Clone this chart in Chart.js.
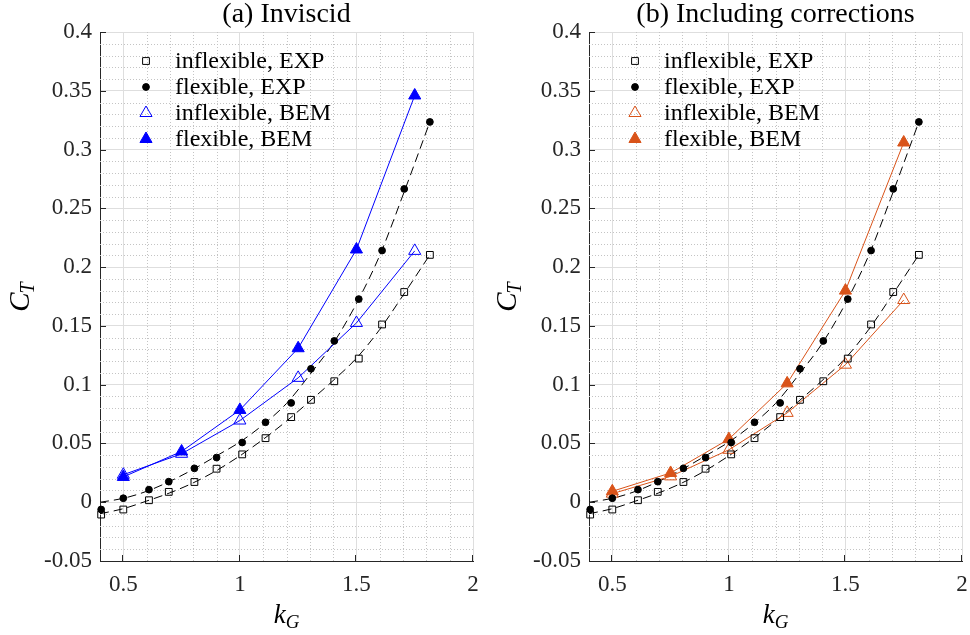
<!DOCTYPE html>
<html lang="en">
<head>
<meta charset="UTF-8">
<title>Thrust coefficient vs k_G</title>
<script src="https://cdn.jsdelivr.net/npm/chart.js"></script>
<style>
  html, body { margin: 0; padding: 0; background: #fff; }
  .wrap { position: relative; width: 970px; height: 635px; }
  .wrap canvas { position: absolute; top: 0; }
  #left { left: 0; }
  #right { left: 485px; }
</style>
</head>
<body>
<div class="wrap">
  <canvas id="left" width="485" height="635"></canvas>
  <canvas id="right" width="485" height="635"></canvas>
</div>
<script>
// experiment (same points in both panels)
const kgExp = [0.405, 0.5, 0.61, 0.695, 0.805, 0.9, 1.01, 1.11, 1.22, 1.305, 1.405, 1.51, 1.61, 1.705, 1.815];
const ctExpInflex = [-0.0105, -0.0062, 0.0017, 0.0088, 0.0172, 0.0285, 0.0407, 0.0545, 0.0724, 0.0871, 0.1029, 0.1222, 0.1512, 0.1788, 0.2104];
const ctExpFlex = [-0.0062, 0.0034, 0.0107, 0.0175, 0.0288, 0.038, 0.0508, 0.068, 0.0845, 0.1135, 0.1372, 0.1728, 0.2141, 0.2665, 0.3235];

// dashed curves fitted to the experiment
const kgFit = [0.4, 0.5, 0.6, 0.7, 0.8, 0.9, 1.0, 1.1, 1.2, 1.3, 1.4, 1.5, 1.6, 1.7, 1.815];
const fitInflex = [-0.0098, -0.0055, 0.001, 0.008, 0.0165, 0.027, 0.0395, 0.0535, 0.069, 0.086, 0.1035, 0.1225, 0.147, 0.176, 0.2105];
const fitFlex = [0, 0.0033, 0.0093, 0.0178, 0.028, 0.0395, 0.0512, 0.066, 0.084, 0.1085, 0.135, 0.169, 0.21, 0.2615, 0.3235];

// BEM results
const kgBem = [0.5, 0.75, 1.0, 1.25, 1.5, 1.75];
const bemInviscidInflex = [0.0234, 0.0412, 0.0695, 0.1058, 0.1525, 0.2138];
const bemInviscidFlex = [0.0215, 0.0432, 0.0785, 0.131, 0.215, 0.346];
const bemCorrInflex = [0.0073, 0.022, 0.0446, 0.076, 0.117, 0.172];
const bemCorrFlex = [0.0093, 0.0249, 0.0537, 0.1011, 0.18, 0.306];

// axes
const xTicks = [0.5, 1, 1.5, 2];
const xTickLabels = ['0.5', '1', '1.5', '2'];
const yTicks = [-0.05, 0, 0.05, 0.1, 0.15, 0.2, 0.25, 0.3, 0.35, 0.4];
const yTickLabels = ['-0.05', '0', '0.05', '0.1', '0.15', '0.2', '0.25', '0.3', '0.35', '0.4'];

const FONT = '"Liberation Serif", "Times New Roman", serif';
const AXIS = '#262626';

function pts(xs, ys) {
    return xs.map((x, i) => ({ x: x, y: ys[i] }));
}

function drawMarker(ctx, style, x, y, r, fill, stroke) {
    ctx.beginPath();
    if (style === 'rect') {
        const s = r * Math.SQRT1_2;
        ctx.rect(x - s, y - s, 2 * s, 2 * s);
    } else if (style === 'circle') {
        ctx.arc(x, y, r, 0, 2 * Math.PI);
    } else {
        for (let k = 0; k < 3; k++) {
            const ang = k * 2 * Math.PI / 3;
            const px = x + Math.sin(ang) * r, py = y - Math.cos(ang) * r;
            if (k) ctx.lineTo(px, py); else ctx.moveTo(px, py);
        }
        ctx.closePath();
    }
    if (fill && fill !== 'transparent') { ctx.fillStyle = fill; ctx.fill(); }
    ctx.lineWidth = 1;
    ctx.strokeStyle = stroke;
    ctx.stroke();
}

// dotted minor grid under the data
const minorGrid = {
    id: 'minorGrid',
    beforeDatasetsDraw(chart) {
        const { ctx, chartArea: a, scales: { x, y } } = chart;
        ctx.save();
        ctx.strokeStyle = '#c4c4c4';
        ctx.lineWidth = 1;
        ctx.setLineDash([1, 2]);
        for (let i = 5; i < 20; i++) {
            if (i % 5 === 0) continue;
            const px = Math.round(x.getPixelForValue(i / 10)) + 0.5;
            ctx.beginPath(); ctx.moveTo(px, a.top); ctx.lineTo(px, a.bottom); ctx.stroke();
        }
        for (let i = -4; i < 40; i++) {
            if (i % 5 === 0) continue;
            const py = Math.round(y.getPixelForValue(i / 100)) + 0.5;
            ctx.beginPath(); ctx.moveTo(a.left, py); ctx.lineTo(a.right, py); ctx.stroke();
        }
        ctx.restore();
    }
};

// inward ticks, title, axis labels and legend
const decor = {
    id: 'decor',
    afterDraw(chart) {
        const { ctx, chartArea: a, scales: { x, y } } = chart;
        const opts = chart.options.plugins.decor;
        ctx.save();
        ctx.strokeStyle = AXIS;
        ctx.lineWidth = 1;
        yTicks.forEach(v => {
            const py = Math.round(y.getPixelForValue(v)) + 0.5;
            ctx.beginPath(); ctx.moveTo(a.left, py); ctx.lineTo(a.left + 6, py); ctx.stroke();
        });
        xTicks.forEach(v => {
            const px = Math.round(x.getPixelForValue(v)) - 0.5;
            ctx.beginPath(); ctx.moveTo(px, a.bottom); ctx.lineTo(px, a.bottom - 6); ctx.stroke();
        });

        // title
        ctx.fillStyle = '#000';
        ctx.font = '28px ' + FONT;
        ctx.textAlign = 'center';
        ctx.textBaseline = 'alphabetic';
        ctx.fillText(opts.title, (a.left + a.right) / 2, 22);

        // k_G
        ctx.font = 'italic 27px ' + FONT;
        const kw = ctx.measureText('k').width;
        ctx.font = 'italic 19px ' + FONT;
        const gw = ctx.measureText('G').width;
        let sx = (a.left + a.right) / 2 - (kw + gw) / 2;
        ctx.textAlign = 'left';
        ctx.font = 'italic 27px ' + FONT;
        ctx.fillText('k', sx, 623);
        ctx.font = 'italic 19px ' + FONT;
        ctx.fillText('G', sx + kw, 628);

        // C_T, rotated
        ctx.save();
        ctx.translate(a.left - opts.yLabelGap, (a.top + a.bottom) / 2);
        ctx.rotate(-Math.PI / 2);
        ctx.font = 'italic 29px ' + FONT;
        const cw = ctx.measureText('C').width;
        ctx.font = 'italic 20px ' + FONT;
        const tw = ctx.measureText('T').width;
        ctx.font = 'italic 29px ' + FONT;
        ctx.fillText('C', -(cw + tw) / 2, 0);
        ctx.font = 'italic 20px ' + FONT;
        ctx.fillText('T', -(cw + tw) / 2 + cw - 1, 5);
        ctx.restore();

        // legend
        ctx.font = '24px ' + FONT;
        ctx.textBaseline = 'middle';
        ctx.textAlign = 'left';
        let row = 0;
        chart.data.datasets.forEach(ds => {
            if (!ds.legendText) return;
            const ly = a.top + 29 + 26 * row;
            drawMarker(ctx, ds.pointStyle, a.left + 46, ly, ds.pointRadius, ds.pointBackgroundColor, ds.pointBorderColor);
            ctx.fillStyle = '#000';
            ctx.fillText(ds.legendText, a.left + 75, ly + 1);
            row++;
        });
        ctx.restore();
    }
};

function makePanel(id, title, color, bemInflex, bemFlex, yWidth, padRight, yLabelGap) {
    const datasets = [
        {
            legendText: 'inflexible, EXP', data: pts(kgExp, ctExpInflex), showLine: false,
            pointStyle: 'rect', pointRadius: 4.8, pointBackgroundColor: 'transparent',
            pointBorderColor: '#000', pointBorderWidth: 1, order: 0
        },
        {
            legendText: 'flexible, EXP', data: pts(kgExp, ctExpFlex), showLine: false,
            pointStyle: 'circle', pointRadius: 3.4, pointBackgroundColor: '#000',
            pointBorderColor: '#000', pointBorderWidth: 1, order: 1
        },
        {
            legendText: 'inflexible, BEM', data: pts(kgBem, bemInflex), showLine: true,
            borderColor: color, borderWidth: 1,
            pointStyle: 'triangle', pointRadius: 7, pointBackgroundColor: 'transparent',
            pointBorderColor: color, pointBorderWidth: 1, order: 2
        },
        {
            legendText: 'flexible, BEM', data: pts(kgBem, bemFlex), showLine: true,
            borderColor: color, borderWidth: 1,
            pointStyle: 'triangle', pointRadius: 7, pointBackgroundColor: color,
            pointBorderColor: color, pointBorderWidth: 1, order: 3
        },
        {
            data: pts(kgFit, fitInflex), showLine: true, borderColor: '#000', borderWidth: 1,
            borderDash: [9, 5], pointRadius: 0, cubicInterpolationMode: 'monotone', order: 4
        },
        {
            data: pts(kgFit, fitFlex), showLine: true, borderColor: '#000', borderWidth: 1,
            borderDash: [9, 5], pointRadius: 0, cubicInterpolationMode: 'monotone', order: 5
        }
    ];
    datasets.forEach(d => { d.clip = false; d.fill = false; });

    return new Chart(document.getElementById(id), {
        type: 'scatter',
        data: { datasets: datasets },
        options: {
            responsive: false,
            animation: false,
            events: [],
            layout: { padding: { left: 0, right: padRight, top: 32, bottom: 0 } },
            scales: {
                x: {
                    type: 'linear', min: 0.4, max: 2,
                    afterBuildTicks: s => { s.ticks = xTicks.map(v => ({ value: v })); },
                    // fixed height; the last label may hang into the right margin
                    afterFit: s => { s.height = 74; s.paddingLeft = 0; s.paddingRight = 0; },
                    ticks: {
                        callback: (v, i) => xTickLabels[i],
                        font: { family: FONT, size: 23 }, color: AXIS,
                        padding: 10, maxRotation: 0, autoSkip: false
                    },
                    grid: { color: '#dedede', lineWidth: 1, drawTicks: false },
                    border: { display: true, color: AXIS, width: 1 }
                },
                y: {
                    type: 'linear', min: -0.05, max: 0.4,
                    afterBuildTicks: s => { s.ticks = yTicks.map(v => ({ value: v })); },
                    afterFit: s => { s.width = yWidth; },
                    ticks: {
                        callback: (v, i) => yTickLabels[i],
                        font: { family: FONT, size: 23 }, color: AXIS,
                        padding: 8, autoSkip: false
                    },
                    grid: { color: '#dedede', lineWidth: 1, drawTicks: false },
                    border: { display: true, color: AXIS, width: 1 }
                }
            },
            plugins: {
                legend: { display: false },
                tooltip: { enabled: false },
                decor: { title: title, yLabelGap: yLabelGap }
            }
        },
        plugins: [minorGrid, decor]
    });
}

makePanel('left', '(a) Inviscid', '#0000ff', bemInviscidInflex, bemInviscidFlex, 100, 12, 71);
makePanel('right', '(b) Including corrections', '#d95319', bemCorrInflex, bemCorrFlex, 104, 7, 73);
</script>
</body>
</html>
